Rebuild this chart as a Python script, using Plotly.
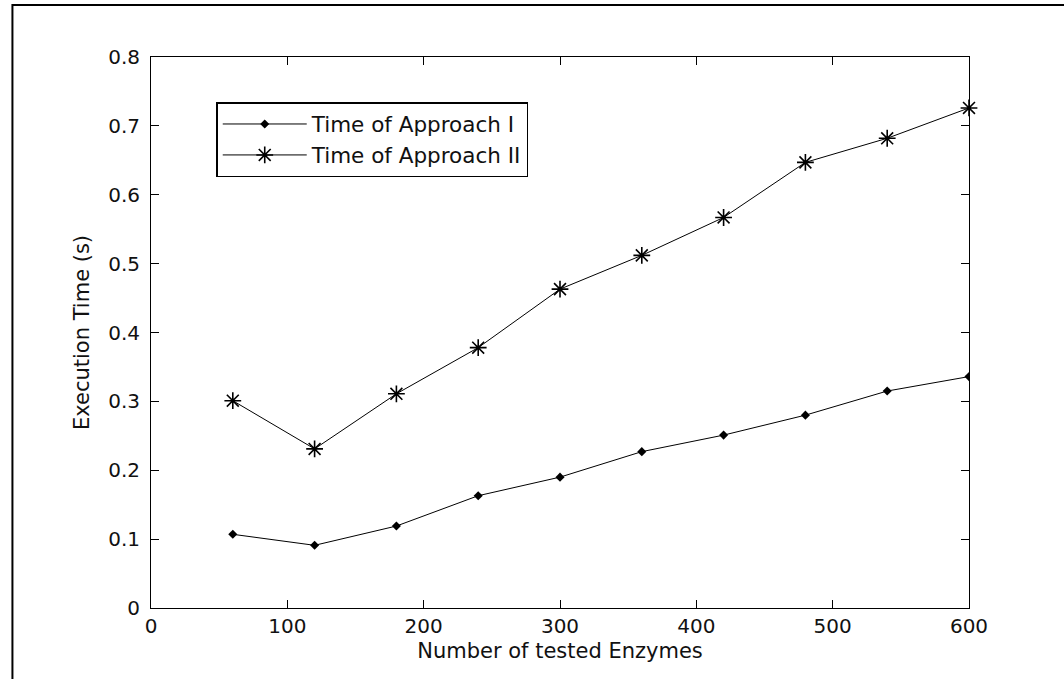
import plotly.graph_objects as go

# Number of enzymes tested per run
enzymes = [60, 120, 180, 240, 300, 360, 420, 480, 540, 600]

# Measured execution times in seconds
time_approach_1 = [0.107, 0.091, 0.119, 0.163, 0.190, 0.227, 0.251, 0.280, 0.315, 0.336]
time_approach_2 = [0.301, 0.231, 0.311, 0.378, 0.463, 0.512, 0.567, 0.647, 0.682, 0.726]

series_names = ["Time of Approach I", "Time of Approach II"]

x_ticks = [0, 100, 200, 300, 400, 500, 600]
y_ticks = [0, 0.1, 0.2, 0.3, 0.4, 0.5, 0.6, 0.7, 0.8]

W, H = 1064, 679
LEFT, RIGHT, TOP, BOTTOM = 150.7, 969.5, 57, 608

FONT = "DejaVu Sans"


def px_x(px):
    return (px - LEFT) / (RIGHT - LEFT)


def px_y(py):
    return (BOTTOM - py) / (BOTTOM - TOP)


fig = go.Figure()

fig.add_trace(go.Scatter(
    x=enzymes, y=time_approach_1, name=series_names[0],
    mode="lines+markers",
    line=dict(color="black", width=1),
    marker=dict(symbol="diamond", size=7, color="black"),
))
fig.add_trace(go.Scatter(
    x=enzymes, y=time_approach_2, name=series_names[1],
    mode="lines+markers",
    line=dict(color="black", width=1),
    marker=dict(symbol="asterisk-open", size=14, color="black",
                line=dict(color="black", width=1.6)),
    cliponaxis=False,
))

axis_common = dict(
    showline=True, linecolor="black", linewidth=1, mirror="ticks",
    ticks="inside", ticklen=8, tickwidth=1, tickcolor="black",
    showgrid=False, zeroline=False,
    tickfont=dict(family=FONT, size=20, color="#111"),
)

fig.update_layout(
    width=W, height=H,
    margin=dict(l=LEFT, r=W - RIGHT, t=TOP, b=H - BOTTOM, pad=0),
    paper_bgcolor="white", plot_bgcolor="white",
    font=dict(family=FONT, color="#111"),
    xaxis=dict(
        range=[0, 600], tickvals=x_ticks,
        title=dict(text="Number of tested Enzymes", font=dict(family=FONT, size=21, color="#111"),
                   standoff=6),
        ticklabelstandoff=0,
        **axis_common,
    ),
    yaxis=dict(
        range=[0, 0.8], tickvals=y_ticks,
        title=dict(text="Execution Time (s)", font=dict(family=FONT, size=21, color="#111"),
                   standoff=12),
        ticklabelstandoff=6,
        **axis_common,
    ),
    showlegend=True,
    legend=dict(
        x=px_x(216), y=px_y(102), xanchor="left", yanchor="top",
        bgcolor="white", bordercolor="black", borderwidth=1.5,
        font=dict(family=FONT, size=21.5, color="#111"),
        itemwidth=84,
    ),
)

# outer frame around the figure
fig.add_shape(
    type="rect", xref="paper", yref="paper",
    x0=px_x(12), x1=px_x(1067), y0=px_y(5), y1=px_y(683),
    line=dict(color="black", width=2), fillcolor="rgba(0,0,0,0)", layer="below",
)

fig.write_html("out.html")
